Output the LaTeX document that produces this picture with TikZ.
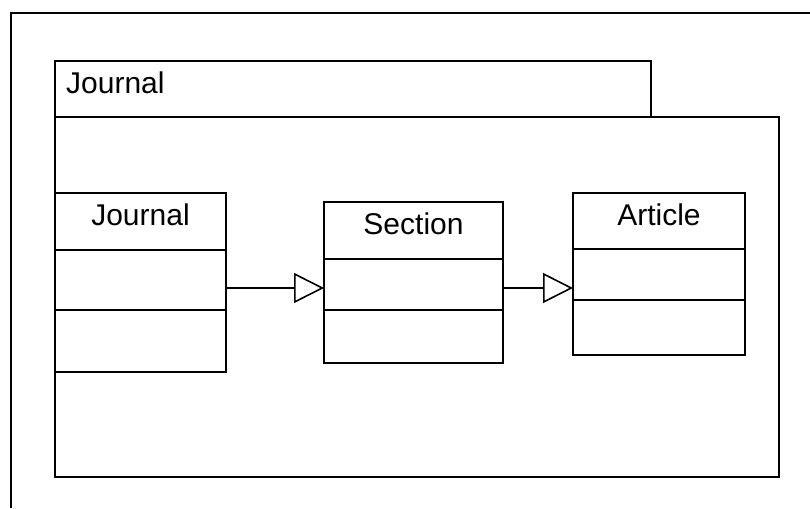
\documentclass[tikz,border=0pt]{standalone}
\usepackage{fontspec}
\setmainfont{Liberation Sans}
\usetikzlibrary{arrows.meta}
\begin{document}
\begin{tikzpicture}[x=1pt,y=-1pt,
  box/.style={draw=black, line width=2pt, fill=white, inner sep=0pt, outer sep=0pt, anchor=north west},
  sep/.style={draw=black, line width=2pt},
  lbl/.style={inner sep=0pt, font=\fontsize{30}{36}\selectfont},
  gen/.style={draw=black, line width=1.6pt,
    -{Triangle[open, length=30pt, width=30pt, line width=1.6pt]}}]
  \useasboundingbox (0,0) rectangle (810,508);
  \fill[white] (0,0) rectangle (810,508);
  % outer frame, running past the right and bottom edges
  \draw[line width=2pt] (11,508) -- (11,13) -- (810,13);
  % package: name tab and body
  \node[box, minimum width=596pt, minimum height=56pt] (tab) at (55,61) {};
  \node[box, minimum width=724pt, minimum height=360pt] (pkg) at (55,117) {};
  \node[lbl, anchor=base west] (tablbl) at (66,94) {Journal};
  % class Journal
  \node[box, minimum width=171pt, minimum height=179pt] (jbox) at (55,193) {};
  \draw[sep] (jbox.west |- 0,250) -- (jbox.east |- 0,250);
  \draw[sep] (jbox.west |- 0,310) -- (jbox.east |- 0,310);
  \node[lbl, anchor=base] (jlbl) at (140.5,225) {Journal};
  % class Section
  \node[box, minimum width=179pt, minimum height=161pt] (sbox) at (324,202) {};
  \draw[sep] (sbox.west |- 0,259) -- (sbox.east |- 0,259);
  \draw[sep] (sbox.west |- 0,310) -- (sbox.east |- 0,310);
  \node[lbl, anchor=base] (slbl) at (413.5,234) {Section};
  % class Article
  \node[box, minimum width=172pt, minimum height=162pt] (abox) at (573,193) {};
  \draw[sep] (abox.west |- 0,249) -- (abox.east |- 0,249);
  \draw[sep] (abox.west |- 0,300) -- (abox.east |- 0,300);
  \node[lbl, anchor=base] (albl) at (659,225) {Article};
  % generalisations
  \draw[gen] (jbox.east |- 0,288) -- (sbox.west |- 0,288);
  \draw[gen] (sbox.east |- 0,288) -- (abox.west |- 0,288);
\end{tikzpicture}
\end{document}
